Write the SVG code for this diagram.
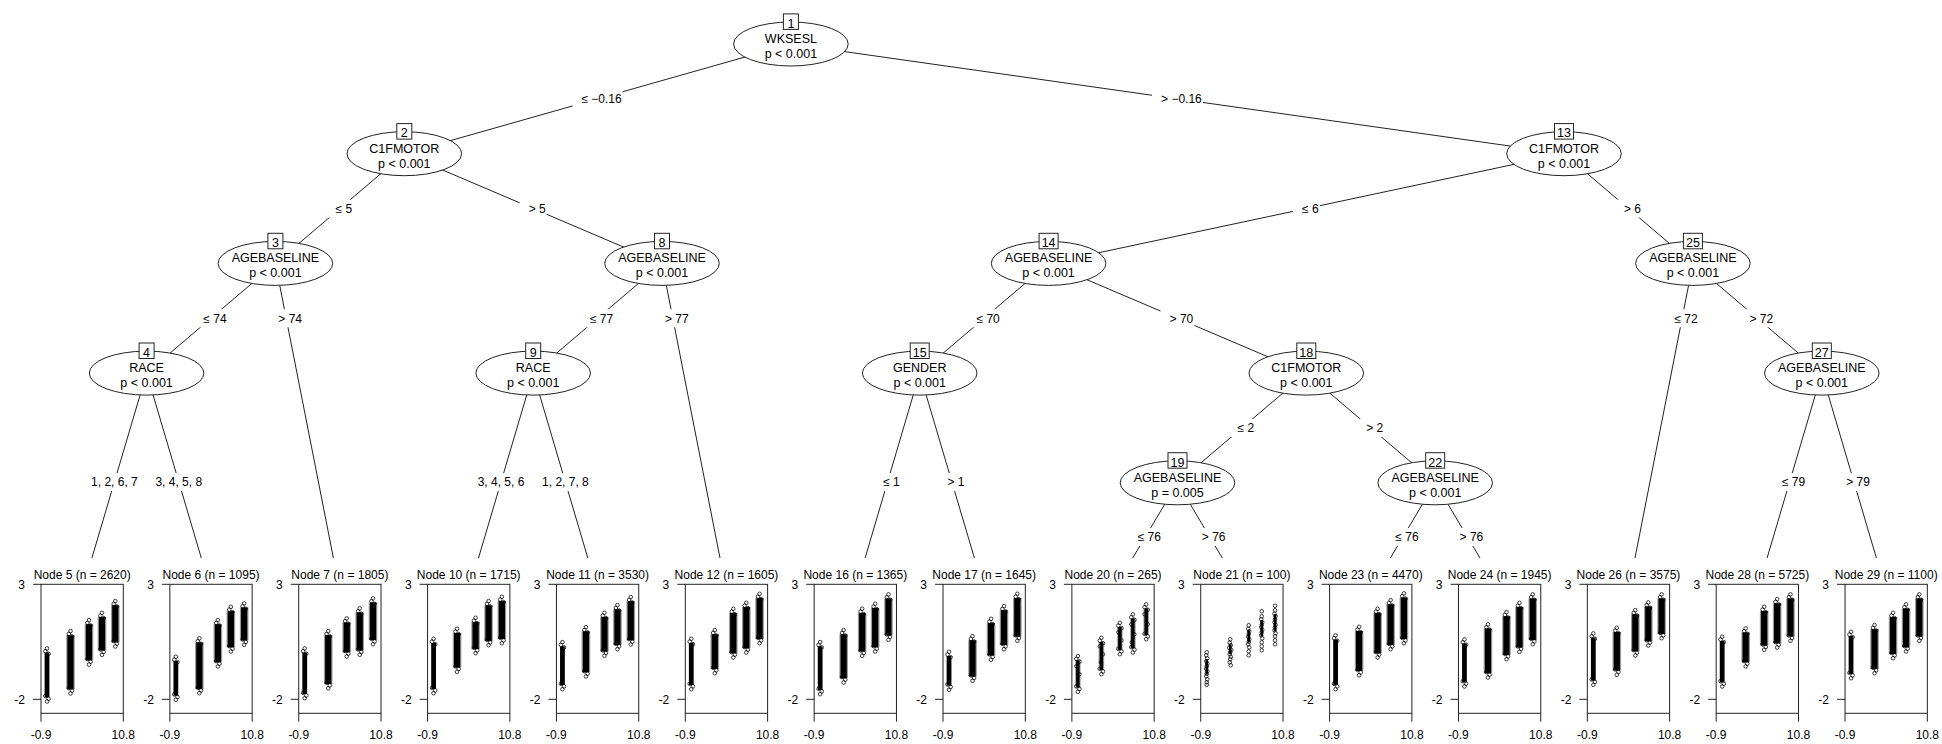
<svg xmlns="http://www.w3.org/2000/svg" xmlns:xlink="http://www.w3.org/1999/xlink" width="1942" height="744" viewBox="0 0 1942 744">
<style>
text{font-family:"Liberation Sans",Arial,sans-serif;font-size:12px;fill:#000}
.nd text{font-size:12.5px}
.nd text,.el text,.ttl,.xl{text-anchor:middle}
.yl{text-anchor:end}
.nd ellipse,.nd rect{fill:#fff;stroke:#222;stroke-width:1}
#edges path{fill:none;stroke:#222;stroke-width:1}
.el rect{fill:#fff}
.c1{fill:none;stroke:#000;stroke-width:4.8}
.c2{fill:none;stroke:#000;stroke-width:6.2}
.c3{fill:none;stroke:#000;stroke-width:3.5}
.c4{fill:none;stroke:#000;stroke-width:2.5}
.halo{fill:none;stroke:#000;stroke-opacity:.4;stroke-width:8.6}
.halo3{fill:none;stroke:#000;stroke-opacity:.35;stroke-width:5.6}
.pts{fill:none;stroke:none;marker-start:url(#m);marker-mid:url(#m);marker-end:url(#m)}
</style>
<defs>
<marker id="m" markerUnits="userSpaceOnUse" markerWidth="6" markerHeight="6" refX="3" refY="3" overflow="visible"><circle cx="3" cy="3" r="1.8" fill="none" stroke="#000" stroke-width=".75"/></marker>
<!-- hollow point caps for the top and bottom end of a point column -->
<g id="t" fill="none" stroke="#000" stroke-width=".75"><circle cx="0" cy="1.8" r="1.8"/><circle cx="-1.6" cy="4.6" r="1.8"/><circle cx="1.6" cy="7.2" r="1.8"/></g>
<g id="b" fill="none" stroke="#000" stroke-width=".75"><circle cx="0" cy="-1.8" r="1.8"/><circle cx="1.6" cy="-4.6" r="1.8"/><circle cx="-1.6" cy="-7.2" r="1.8"/></g>
<!-- plot frame with axis ticks of a terminal panel -->
<g id="frame" fill="none" stroke="#222" stroke-width="1"><rect x="0" y="584.3" width="82.3" height="129"/><path d="M0 713.3V721.7M82.3 713.3V721.7M0 584.3H-8M0 699.3H-8"/></g>
</defs>
<rect width="1942" height="744" fill="#fff"/>

<g id="edges">
<path d="M790.9 44L404.3 153.7"/>
<path d="M790.9 44L1564 153.7"/>
<path d="M404.3 153.7L275.4 263.4"/>
<path d="M404.3 153.7L662 263.4"/>
<path d="M275.4 263.4L146.6 373.1"/>
<path d="M275.4 263.4L333.4 558"/>
<path d="M146.6 373.1L91.9 558"/>
<path d="M146.6 373.1L201.3 558"/>
<path d="M662 263.4L533.2 373.1"/>
<path d="M662 263.4L720 558"/>
<path d="M533.2 373.1L478.5 558"/>
<path d="M533.2 373.1L587.8 558"/>
<path d="M1564 153.7L1048.6 263.4"/>
<path d="M1564 153.7L1692.9 263.4"/>
<path d="M1048.6 263.4L919.7 373.1"/>
<path d="M1048.6 263.4L1306.3 373.1"/>
<path d="M919.7 373.1L865.1 558"/>
<path d="M919.7 373.1L974.4 558"/>
<path d="M1306.3 373.1L1177.5 482.8"/>
<path d="M1306.3 373.1L1435.2 482.8"/>
<path d="M1177.5 482.8L1132.7 558"/>
<path d="M1177.5 482.8L1222.3 558"/>
<path d="M1435.2 482.8L1390.4 558"/>
<path d="M1435.2 482.8L1480 558"/>
<path d="M1692.9 263.4L1635 558"/>
<path d="M1692.9 263.4L1821.8 373.1"/>
<path d="M1821.8 373.1L1767.1 558"/>
<path d="M1821.8 373.1L1876.4 558"/>
</g>

<g id="edge-labels" class="el">
<rect x="572.6" y="89.85" width="50" height="18"/><text x="601.6" y="103.2">≤ −0.16</text>
<rect x="1152" y="89.85" width="51" height="18"/><text x="1181.45" y="103.2">&gt; −0.16</text>
<rect x="326.35" y="199.55" width="27" height="18"/><text x="343.85" y="212.9">≤ 5</text>
<rect x="519.65" y="199.55" width="27" height="18"/><text x="537.15" y="212.9">&gt; 5</text>
<rect x="1292.8" y="199.55" width="27" height="18"/><text x="1310.3" y="212.9">≤ 6</text>
<rect x="1614.95" y="199.55" width="27" height="18"/><text x="1632.45" y="212.9">&gt; 6</text>
<rect x="194.5" y="309.25" width="33" height="18"/><text x="215" y="322.6">≤ 74</text>
<rect x="269.2" y="309.25" width="34" height="18"/><text x="290.2" y="322.6">&gt; 74</text>
<rect x="581.1" y="309.25" width="33" height="18"/><text x="601.6" y="322.6">≤ 77</text>
<rect x="655.8" y="309.25" width="34" height="18"/><text x="676.8" y="322.6">&gt; 77</text>
<rect x="967.65" y="309.25" width="33" height="18"/><text x="988.15" y="322.6">≤ 70</text>
<rect x="1160.45" y="309.25" width="34" height="18"/><text x="1181.45" y="322.6">&gt; 70</text>
<rect x="1665.6" y="309.25" width="33" height="18"/><text x="1686.1" y="322.6">≤ 72</text>
<rect x="1740.35" y="309.25" width="34" height="18"/><text x="1761.35" y="322.6">&gt; 72</text>
<rect x="1228.4" y="418.95" width="27" height="18"/><text x="1245.9" y="432.3">≤ 2</text>
<rect x="1357.25" y="418.95" width="27" height="18"/><text x="1374.75" y="432.3">&gt; 2</text>
<rect x="88.4" y="473.05" width="52" height="18"/><text x="114.4" y="486.4">1, 2, 6, 7</text>
<rect x="152.8" y="473.05" width="52" height="18"/><text x="178.8" y="486.4">3, 4, 5, 8</text>
<rect x="475" y="473.05" width="52" height="18"/><text x="501" y="486.4">3, 4, 5, 6</text>
<rect x="539.4" y="473.05" width="52" height="18"/><text x="565.4" y="486.4">1, 2, 7, 8</text>
<rect x="874" y="473.05" width="27" height="18"/><text x="891.5" y="486.4">≤ 1</text>
<rect x="938.4" y="473.05" width="27" height="18"/><text x="955.9" y="486.4">&gt; 1</text>
<rect x="1773.1" y="473.05" width="33" height="18"/><text x="1793.6" y="486.4">≤ 79</text>
<rect x="1837" y="473.05" width="34" height="18"/><text x="1858" y="486.4">&gt; 79</text>
<rect x="1128.8" y="527.9" width="33" height="18"/><text x="1149.3" y="541.25">≤ 76</text>
<rect x="1192.7" y="527.9" width="34" height="18"/><text x="1213.7" y="541.25">&gt; 76</text>
<rect x="1386.5" y="527.9" width="33" height="18"/><text x="1407" y="541.25">≤ 76</text>
<rect x="1450.4" y="527.9" width="34" height="18"/><text x="1471.4" y="541.25">&gt; 76</text>
</g>

<!-- inner (split) nodes -->
<g id="node1" class="nd"><ellipse cx="790.9" cy="44" rx="57.3" ry="22"/><rect x="783.4" y="13.9" width="15" height="15.5"/><text x="790.9" y="27.7">1</text><text x="790.9" y="42.8">WKSESL</text><text x="790.9" y="57.8">p &lt; 0.001</text></g>
<g id="node2" class="nd"><ellipse cx="404.3" cy="153.7" rx="57.3" ry="22"/><rect x="396.8" y="123.6" width="15" height="15.5"/><text x="404.3" y="137.4">2</text><text x="404.3" y="152.5">C1FMOTOR</text><text x="404.3" y="167.5">p &lt; 0.001</text></g>
<g id="node13" class="nd"><ellipse cx="1564" cy="153.7" rx="57.3" ry="22"/><rect x="1554.5" y="123.6" width="19" height="15.5"/><text x="1564" y="137.4">13</text><text x="1564" y="152.5">C1FMOTOR</text><text x="1564" y="167.5">p &lt; 0.001</text></g>
<g id="node3" class="nd"><ellipse cx="275.4" cy="263.4" rx="57.3" ry="22"/><rect x="267.9" y="233.3" width="15" height="15.5"/><text x="275.4" y="247.1">3</text><text x="275.4" y="262.2">AGEBASELINE</text><text x="275.4" y="277.2">p &lt; 0.001</text></g>
<g id="node8" class="nd"><ellipse cx="662" cy="263.4" rx="57.3" ry="22"/><rect x="654.5" y="233.3" width="15" height="15.5"/><text x="662" y="247.1">8</text><text x="662" y="262.2">AGEBASELINE</text><text x="662" y="277.2">p &lt; 0.001</text></g>
<g id="node14" class="nd"><ellipse cx="1048.6" cy="263.4" rx="57.3" ry="22"/><rect x="1039.1" y="233.3" width="19" height="15.5"/><text x="1048.6" y="247.1">14</text><text x="1048.6" y="262.2">AGEBASELINE</text><text x="1048.6" y="277.2">p &lt; 0.001</text></g>
<g id="node25" class="nd"><ellipse cx="1692.9" cy="263.4" rx="57.3" ry="22"/><rect x="1683.4" y="233.3" width="19" height="15.5"/><text x="1692.9" y="247.1">25</text><text x="1692.9" y="262.2">AGEBASELINE</text><text x="1692.9" y="277.2">p &lt; 0.001</text></g>
<g id="node4" class="nd"><ellipse cx="146.6" cy="373.1" rx="57.3" ry="22"/><rect x="139.1" y="343" width="15" height="15.5"/><text x="146.6" y="356.8">4</text><text x="146.6" y="371.9">RACE</text><text x="146.6" y="386.9">p &lt; 0.001</text></g>
<g id="node9" class="nd"><ellipse cx="533.2" cy="373.1" rx="57.3" ry="22"/><rect x="525.7" y="343" width="15" height="15.5"/><text x="533.2" y="356.8">9</text><text x="533.2" y="371.9">RACE</text><text x="533.2" y="386.9">p &lt; 0.001</text></g>
<g id="node15" class="nd"><ellipse cx="919.7" cy="373.1" rx="57.3" ry="22"/><rect x="910.2" y="343" width="19" height="15.5"/><text x="919.7" y="356.8">15</text><text x="919.7" y="371.9">GENDER</text><text x="919.7" y="386.9">p &lt; 0.001</text></g>
<g id="node18" class="nd"><ellipse cx="1306.3" cy="373.1" rx="57.3" ry="22"/><rect x="1296.8" y="343" width="19" height="15.5"/><text x="1306.3" y="356.8">18</text><text x="1306.3" y="371.9">C1FMOTOR</text><text x="1306.3" y="386.9">p &lt; 0.001</text></g>
<g id="node27" class="nd"><ellipse cx="1821.8" cy="373.1" rx="57.3" ry="22"/><rect x="1812.3" y="343" width="19" height="15.5"/><text x="1821.8" y="356.8">27</text><text x="1821.8" y="371.9">AGEBASELINE</text><text x="1821.8" y="386.9">p &lt; 0.001</text></g>
<g id="node19" class="nd"><ellipse cx="1177.5" cy="482.8" rx="57.3" ry="22"/><rect x="1168" y="452.7" width="19" height="15.5"/><text x="1177.5" y="466.5">19</text><text x="1177.5" y="481.6">AGEBASELINE</text><text x="1177.5" y="496.6">p = 0.005</text></g>
<g id="node22" class="nd"><ellipse cx="1435.2" cy="482.8" rx="57.3" ry="22"/><rect x="1425.7" y="452.7" width="19" height="15.5"/><text x="1435.2" y="466.5">22</text><text x="1435.2" y="481.6">AGEBASELINE</text><text x="1435.2" y="496.6">p &lt; 0.001</text></g>

<!-- terminal nodes: scatter panels; k* paths are the dense point columns, reused under themselves as a soft halo -->
<g id="node5" transform="translate(41,0)">
<text class="ttl" x="41.15" y="579">Node 5 (n = 2620)</text><use href="#frame"/>
<text class="yl" x="-16" y="588.8">3</text><text class="yl" x="-16" y="703.8">-2</text><text class="xl" x="0" y="738.5">-0.9</text><text class="xl" x="82.3" y="738.5">10.8</text>
<g transform="translate(0,584.3)"><use href="#k5" class="halo"/><path class="c1" d="M6 68.3V113"/><g class="c2"><path id="k5" d="M29.5 51V105M48 40V76M61 32.7V66.3M74.3 21V58"/></g>
<use href="#t" x="6" y="62.3"/><use href="#t" x="29.5" y="45"/><use href="#t" x="48" y="34"/><use href="#t" x="61" y="26.7"/><use href="#t" x="74.3" y="15"/>
<use href="#b" x="6" y="119"/><use href="#b" x="29.5" y="111"/><use href="#b" x="48" y="82"/><use href="#b" x="61" y="72.3"/><use href="#b" x="74.3" y="64"/></g></g>

<g id="node6" transform="translate(169.86,0)">
<text class="ttl" x="41.15" y="579">Node 6 (n = 1095)</text><use href="#frame"/>
<text class="yl" x="-16" y="588.8">3</text><text class="yl" x="-16" y="703.8">-2</text><text class="xl" x="0" y="738.5">-0.9</text><text class="xl" x="82.3" y="738.5">10.8</text>
<g transform="translate(0,584.3)"><use href="#k6" class="halo"/><path class="c1" d="M6 76.7V111.3"/><g class="c2"><path id="k6" d="M29.5 58.3V104.7M48 40V78M61 26.7V63M74.3 23.3V56.3"/></g>
<use href="#t" x="6" y="70.7"/><use href="#t" x="29.5" y="52.3"/><use href="#t" x="48" y="34"/><use href="#t" x="61" y="20.7"/><use href="#t" x="74.3" y="17.3"/>
<use href="#b" x="6" y="117.3"/><use href="#b" x="29.5" y="110.7"/><use href="#b" x="48" y="84"/><use href="#b" x="61" y="69"/><use href="#b" x="74.3" y="62.3"/></g></g>

<g id="node7" transform="translate(298.72,0)">
<text class="ttl" x="41.15" y="579">Node 7 (n = 1805)</text><use href="#frame"/>
<text class="yl" x="-16" y="588.8">3</text><text class="yl" x="-16" y="703.8">-2</text><text class="xl" x="0" y="738.5">-0.9</text><text class="xl" x="82.3" y="738.5">10.8</text>
<g transform="translate(0,584.3)"><use href="#k7" class="halo"/><path class="c1" d="M6 68.3V109.7"/><g class="c2"><path id="k7" d="M29.5 51V99.7M48 38.3V68M61 28.3V66.3M74.3 18.3V55.7"/></g>
<use href="#t" x="6" y="62.3"/><use href="#t" x="29.5" y="45"/><use href="#t" x="48" y="32.3"/><use href="#t" x="61" y="22.3"/><use href="#t" x="74.3" y="12.3"/>
<use href="#b" x="6" y="115.7"/><use href="#b" x="29.5" y="105.7"/><use href="#b" x="48" y="74"/><use href="#b" x="61" y="72.3"/><use href="#b" x="74.3" y="61.7"/></g></g>

<g id="node10" transform="translate(427.58,0)">
<text class="ttl" x="41.15" y="579">Node 10 (n = 1715)</text><use href="#frame"/>
<text class="yl" x="-16" y="588.8">3</text><text class="yl" x="-16" y="703.8">-2</text><text class="xl" x="0" y="738.5">-0.9</text><text class="xl" x="82.3" y="738.5">10.8</text>
<g transform="translate(0,584.3)"><use href="#k10" class="halo"/><path class="c1" d="M6 58.7V104.7"/><g class="c2"><path id="k10" d="M29.5 48.7V83.3M48 37.7V64.7M61 21V56.7M74.3 16.7V54.7"/></g>
<use href="#t" x="6" y="52.7"/><use href="#t" x="29.5" y="42.7"/><use href="#t" x="48" y="31.7"/><use href="#t" x="61" y="15"/><use href="#t" x="74.3" y="10.7"/>
<use href="#b" x="6" y="110.7"/><use href="#b" x="29.5" y="89.3"/><use href="#b" x="48" y="70.7"/><use href="#b" x="61" y="62.7"/><use href="#b" x="74.3" y="60.7"/></g></g>

<g id="node11" transform="translate(556.44,0)">
<text class="ttl" x="41.15" y="579">Node 11 (n = 3530)</text><use href="#frame"/>
<text class="yl" x="-16" y="588.8">3</text><text class="yl" x="-16" y="703.8">-2</text><text class="xl" x="0" y="738.5">-0.9</text><text class="xl" x="82.3" y="738.5">10.8</text>
<g transform="translate(0,584.3)"><use href="#k11" class="halo"/><path class="c1" d="M6 62V100.7"/><g class="c2"><path id="k11" d="M29.5 47V88M48 32.7V67.3M61 25V60.7M74.3 17V56"/></g>
<use href="#t" x="6" y="56"/><use href="#t" x="29.5" y="41"/><use href="#t" x="48" y="26.7"/><use href="#t" x="61" y="19"/><use href="#t" x="74.3" y="11"/>
<use href="#b" x="6" y="106.7"/><use href="#b" x="29.5" y="94"/><use href="#b" x="48" y="73.3"/><use href="#b" x="61" y="66.7"/><use href="#b" x="74.3" y="62"/></g></g>

<g id="node12" transform="translate(685.3,0)">
<text class="ttl" x="41.15" y="579">Node 12 (n = 1605)</text><use href="#frame"/>
<text class="yl" x="-16" y="588.8">3</text><text class="yl" x="-16" y="703.8">-2</text><text class="xl" x="0" y="738.5">-0.9</text><text class="xl" x="82.3" y="738.5">10.8</text>
<g transform="translate(0,584.3)"><use href="#k12" class="halo"/><path class="c1" d="M6 58.7V100.7"/><g class="c2"><path id="k12" d="M29.5 50V84.7M48 28.7V69M61 22.7V64M74.3 13.7V54.7"/></g>
<use href="#t" x="6" y="52.7"/><use href="#t" x="29.5" y="44"/><use href="#t" x="48" y="22.7"/><use href="#t" x="61" y="16.7"/><use href="#t" x="74.3" y="7.7"/>
<use href="#b" x="6" y="106.7"/><use href="#b" x="29.5" y="90.7"/><use href="#b" x="48" y="75"/><use href="#b" x="61" y="70"/><use href="#b" x="74.3" y="60.7"/></g></g>

<g id="node16" transform="translate(814.16,0)">
<text class="ttl" x="41.15" y="579">Node 16 (n = 1365)</text><use href="#frame"/>
<text class="yl" x="-16" y="588.8">3</text><text class="yl" x="-16" y="703.8">-2</text><text class="xl" x="0" y="738.5">-0.9</text><text class="xl" x="82.3" y="738.5">10.8</text>
<g transform="translate(0,584.3)"><use href="#k16" class="halo"/><path class="c1" d="M6 62V105.7"/><g class="c2"><path id="k16" d="M29.5 50V94M48 28.7V67.3M61 23.7V63M74.3 14.3V51.3"/></g>
<use href="#t" x="6" y="56"/><use href="#t" x="29.5" y="44"/><use href="#t" x="48" y="22.7"/><use href="#t" x="61" y="17.7"/><use href="#t" x="74.3" y="8.3"/>
<use href="#b" x="6" y="111.7"/><use href="#b" x="29.5" y="100"/><use href="#b" x="48" y="73.3"/><use href="#b" x="61" y="69"/><use href="#b" x="74.3" y="57.3"/></g></g>

<g id="node17" transform="translate(943.02,0)">
<text class="ttl" x="41.15" y="579">Node 17 (n = 1645)</text><use href="#frame"/>
<text class="yl" x="-16" y="588.8">3</text><text class="yl" x="-16" y="703.8">-2</text><text class="xl" x="0" y="738.5">-0.9</text><text class="xl" x="82.3" y="738.5">10.8</text>
<g transform="translate(0,584.3)"><use href="#k17" class="halo"/><path class="c1" d="M6 71.7V101.3"/><g class="c2"><path id="k17" d="M29.5 56V92.3M48 38.7V71.3M61 26V60.7M74.3 13.7V52.3"/></g>
<use href="#t" x="6" y="65.7"/><use href="#t" x="29.5" y="50"/><use href="#t" x="48" y="32.7"/><use href="#t" x="61" y="20"/><use href="#t" x="74.3" y="7.7"/>
<use href="#b" x="6" y="107.3"/><use href="#b" x="29.5" y="98.3"/><use href="#b" x="48" y="77.3"/><use href="#b" x="61" y="66.7"/><use href="#b" x="74.3" y="58.3"/></g></g>

<g id="node20" transform="translate(1071.88,0)">
<text class="ttl" x="41.15" y="579">Node 20 (n = 265)</text><use href="#frame"/>
<text class="yl" x="-16" y="588.8">3</text><text class="yl" x="-16" y="703.8">-2</text><text class="xl" x="0" y="738.5">-0.9</text><text class="xl" x="82.3" y="738.5">10.8</text>
<g transform="translate(0,584.3)"><use href="#k20" class="halo3"/><g class="c3"><path id="k20" d="M6 76V103.3M29.5 57.7V85.7M48 42.7V65.7M61 34.3V64M74.3 24.3V50.7"/></g>
<path class="pts" d="M4.5 82L7.5 90M28 62L31 70L29 78M46.5 48L49.5 56M59.5 40L62.5 50L60 58M72.8 30L75.8 40"/>
<use href="#t" x="6" y="70"/><use href="#t" x="29.5" y="51.7"/><use href="#t" x="48" y="36.7"/><use href="#t" x="61" y="28.3"/><use href="#t" x="74.3" y="18.3"/>
<use href="#b" x="6" y="109.3"/><use href="#b" x="29.5" y="91.7"/><use href="#b" x="48" y="71.7"/><use href="#b" x="61" y="70"/><use href="#b" x="74.3" y="56.7"/></g></g>

<g id="node21" transform="translate(1200.74,0)">
<text class="ttl" x="41.15" y="579">Node 21 (n = 100)</text><use href="#frame"/>
<text class="yl" x="-16" y="588.8">3</text><text class="yl" x="-16" y="703.8">-2</text><text class="xl" x="0" y="738.5">-0.9</text><text class="xl" x="82.3" y="738.5">10.8</text>
<g transform="translate(0,584.3)"><path class="c4" d="M6 75V90M29.5 60V70M48 46V58M61 36V52M74.3 30V47"/>
<path class="pts" d="M6 68L5.5 71L6.5 74L5.5 77L6.5 79.5L6 82L5.5 84.5L6.5 87L6 89.5L5.5 92L6.5 95L6 98L6 100.5M29.5 55L29 58.5L30 61L28.5 63.5L30.5 65.5L29.5 67.5L29 70L30 72.5L29.5 75L29 78L30 81M48 41L47.5 44.5L48.5 47L48 50L47.5 52.5L48.5 55L48 57.5L47.5 60L48.5 63L48 67L48 71M61 27L61 32L60.5 35L61.5 38L61 40.5L60.5 43L61.5 45.5L61 48L60.5 51L61.5 54L61 58L61 62L61 66M74.3 21.5L74.3 26L73.8 29.5L74.8 32L74.3 35L73.8 38L74.8 40.5L74.3 43L73.8 46L74.8 49L74.3 52L74.3 56L74.3 60"/></g></g>

<g id="node23" transform="translate(1329.6,0)">
<text class="ttl" x="41.15" y="579">Node 23 (n = 4470)</text><use href="#frame"/>
<text class="yl" x="-16" y="588.8">3</text><text class="yl" x="-16" y="703.8">-2</text><text class="xl" x="0" y="738.5">-0.9</text><text class="xl" x="82.3" y="738.5">10.8</text>
<g transform="translate(0,584.3)"><use href="#k23" class="halo"/><path class="c1" d="M6 55.3V100.7"/><g class="c2"><path id="k23" d="M29.5 46.7V86.7M48 28.7V69M61 20V60.7M74.3 13.3V54.7"/></g>
<use href="#t" x="6" y="49.3"/><use href="#t" x="29.5" y="40.7"/><use href="#t" x="48" y="22.7"/><use href="#t" x="61" y="14"/><use href="#t" x="74.3" y="7.3"/>
<use href="#b" x="6" y="106.7"/><use href="#b" x="29.5" y="92.7"/><use href="#b" x="48" y="75"/><use href="#b" x="61" y="66.7"/><use href="#b" x="74.3" y="60.7"/></g></g>

<g id="node24" transform="translate(1458.46,0)">
<text class="ttl" x="41.15" y="579">Node 24 (n = 1945)</text><use href="#frame"/>
<text class="yl" x="-16" y="588.8">3</text><text class="yl" x="-16" y="703.8">-2</text><text class="xl" x="0" y="738.5">-0.9</text><text class="xl" x="82.3" y="738.5">10.8</text>
<g transform="translate(0,584.3)"><use href="#k24" class="halo"/><path class="c1" d="M6 59.3V98"/><g class="c2"><path id="k24" d="M29.5 44.3V89M48 32V70.7M61 22.7V63.3M74.3 14.3V55.7"/></g>
<use href="#t" x="6" y="53.3"/><use href="#t" x="29.5" y="38.3"/><use href="#t" x="48" y="26"/><use href="#t" x="61" y="16.7"/><use href="#t" x="74.3" y="8.3"/>
<use href="#b" x="6" y="104"/><use href="#b" x="29.5" y="95"/><use href="#b" x="48" y="76.7"/><use href="#b" x="61" y="69.3"/><use href="#b" x="74.3" y="61.7"/></g></g>

<g id="node26" transform="translate(1587.32,0)">
<text class="ttl" x="41.15" y="579">Node 26 (n = 3575)</text><use href="#frame"/>
<text class="yl" x="-16" y="588.8">3</text><text class="yl" x="-16" y="703.8">-2</text><text class="xl" x="0" y="738.5">-0.9</text><text class="xl" x="82.3" y="738.5">10.8</text>
<g transform="translate(0,584.3)"><use href="#k26" class="halo"/><path class="c1" d="M6 53.3V96.3"/><g class="c2"><path id="k26" d="M29.5 47.7V86.3M48 30V67M61 22.3V57M74.3 14.3V49.7"/></g>
<use href="#t" x="6" y="47.3"/><use href="#t" x="29.5" y="41.7"/><use href="#t" x="48" y="24"/><use href="#t" x="61" y="16.3"/><use href="#t" x="74.3" y="8.3"/>
<use href="#b" x="6" y="102.3"/><use href="#b" x="29.5" y="92.3"/><use href="#b" x="48" y="73"/><use href="#b" x="61" y="63"/><use href="#b" x="74.3" y="55.7"/></g></g>

<g id="node28" transform="translate(1716.18,0)">
<text class="ttl" x="41.15" y="579">Node 28 (n = 5725)</text><use href="#frame"/>
<text class="yl" x="-16" y="588.8">3</text><text class="yl" x="-16" y="703.8">-2</text><text class="xl" x="0" y="738.5">-0.9</text><text class="xl" x="82.3" y="738.5">10.8</text>
<g transform="translate(0,584.3)"><use href="#k28" class="halo"/><path class="c1" d="M6 56.7V98"/><g class="c2"><path id="k28" d="M29.5 48.3V78M48 26.7V61.3M61 19V59M74.3 14.3V52.3"/></g>
<use href="#t" x="6" y="50.7"/><use href="#t" x="29.5" y="42.3"/><use href="#t" x="48" y="20.7"/><use href="#t" x="61" y="13"/><use href="#t" x="74.3" y="8.3"/>
<use href="#b" x="6" y="104"/><use href="#b" x="29.5" y="84"/><use href="#b" x="48" y="67.3"/><use href="#b" x="61" y="65"/><use href="#b" x="74.3" y="58.3"/></g></g>

<g id="node29" transform="translate(1845.04,0)">
<text class="ttl" x="41.15" y="579">Node 29 (n = 1100)</text><use href="#frame"/>
<text class="yl" x="-16" y="588.8">3</text><text class="yl" x="-16" y="703.8">-2</text><text class="xl" x="0" y="738.5">-0.9</text><text class="xl" x="82.3" y="738.5">10.8</text>
<g transform="translate(0,584.3)"><use href="#k29" class="halo"/><path class="c1" d="M6 51.7V89.7"/><g class="c2"><path id="k29" d="M29.5 45V84.7M48 32.7V69.7M61 24.3V63M74.3 14.3V52.3"/></g>
<use href="#t" x="6" y="45.7"/><use href="#t" x="29.5" y="39"/><use href="#t" x="48" y="26.7"/><use href="#t" x="61" y="18.3"/><use href="#t" x="74.3" y="8.3"/>
<use href="#b" x="6" y="95.7"/><use href="#b" x="29.5" y="90.7"/><use href="#b" x="48" y="75.7"/><use href="#b" x="61" y="69"/><use href="#b" x="74.3" y="58.3"/></g></g>
</svg>
